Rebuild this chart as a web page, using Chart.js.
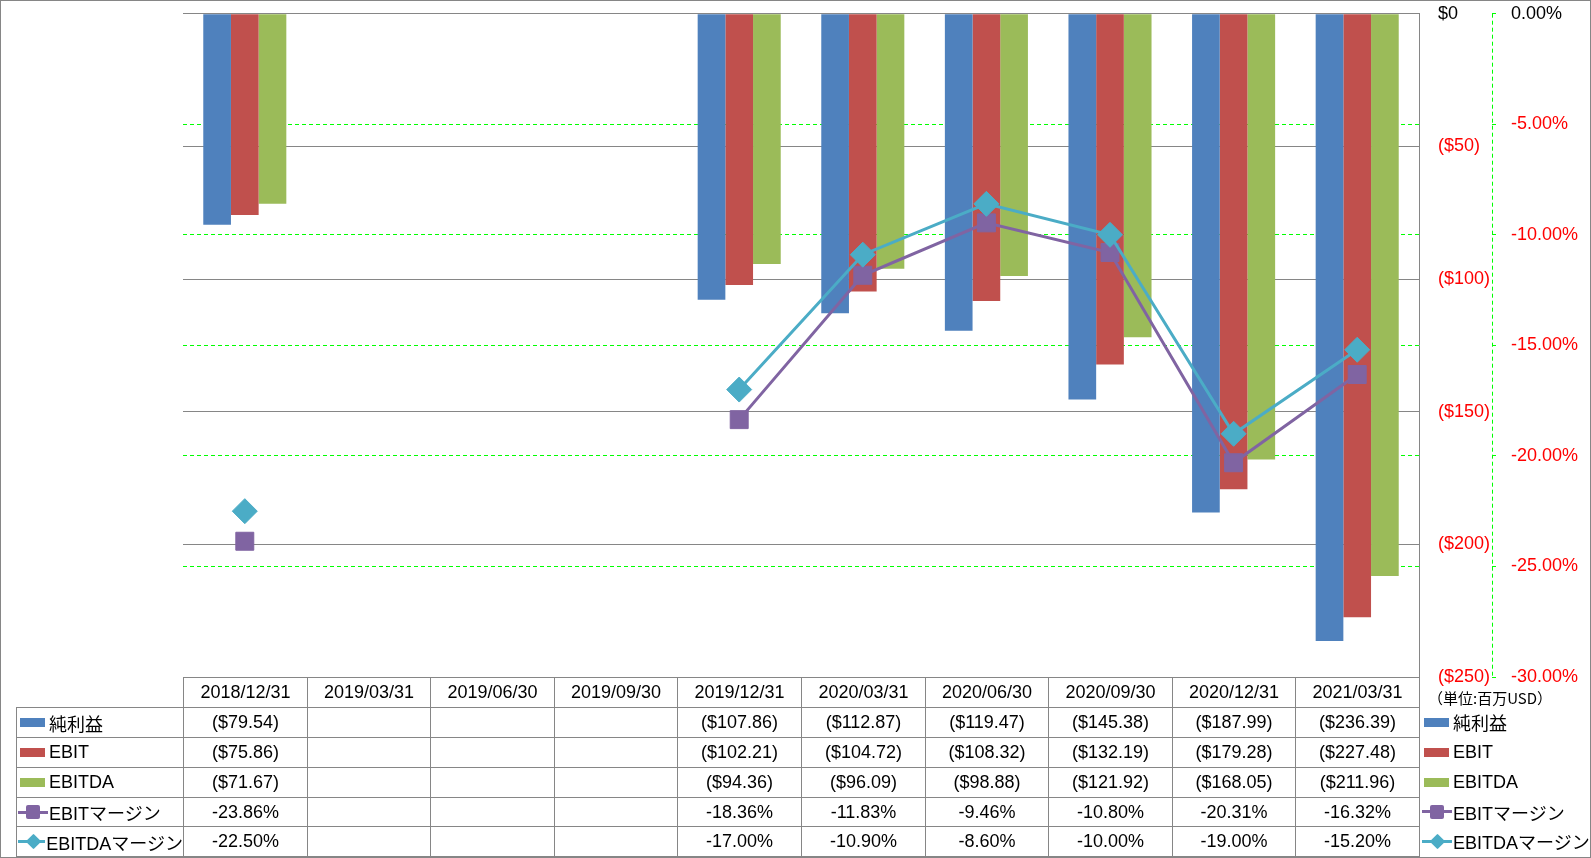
<!DOCTYPE html>
<html lang="ja">
<head>
<meta charset="utf-8">
<title>純利益 / EBIT / EBITDA</title>
<script src="https://cdn.jsdelivr.net/npm/chart.js@4.4.1/dist/chart.umd.min.js"></script>
<style>
  html, body { margin: 0; padding: 0; background: #fff; }
  #wrap { position: relative; width: 1591px; height: 858px; overflow: hidden; }
  #myChart { position: absolute; left: 0; top: 0; }
  #frame { position: absolute; left: 0; top: 0; width: 1591px; height: 858px; box-sizing: border-box;
           border: 1px solid #868686; pointer-events: none; }
  .cell { position: absolute; box-sizing: border-box; display: flex; align-items: center; justify-content: center;
          font-family: 'Liberation Sans', 'Noto Sans CJK JP', sans-serif; font-size: 18px; color: #000;
          white-space: nowrap; overflow: hidden; border-left: 1px solid #868686; border-top: 1px solid #868686; }
  .cell.name { justify-content: flex-start; }
  .lg { position: absolute; display: flex; align-items: center; white-space: nowrap;
        font-family: 'Liberation Sans', 'Noto Sans CJK JP', sans-serif; font-size: 18px; color: #000; }
  .sw { display: inline-block; width: 25px; height: 9px; margin: 0 4px 0 3px; }
  .lm { display: inline-block; position: relative; width: 30px; height: 16px; margin: 0 1px 0 1px; }
  .lm .ln { position: absolute; left: 0; right: 0; top: 6.5px; height: 3px; }
  .lm .sq { position: absolute; left: 8px; top: 1px; width: 14px; height: 14px; border-radius: 2px; }
  .lm .dm { position: absolute; left: 9.5px; top: 2.5px; width: 11px; height: 11px; transform: rotate(45deg); border-radius: 1px; }
  #unit { position: absolute; font-family: 'Noto Sans CJK JP', sans-serif; font-size: 15px; color: #000; white-space: nowrap; }
</style>
</head>
<body>
<div id="wrap">
  <canvas id="myChart" width="1591" height="858"></canvas>
  <div id="frame"></div>
</div>
<script>
const categories = ['2018/12/31', '2019/03/31', '2019/06/30', '2019/09/30', '2019/12/31',
                    '2020/03/31', '2020/06/30', '2020/09/30', '2020/12/31', '2021/03/31'];
const netIncome = [-79.54, null, null, null, -107.86, -112.87, -119.47, -145.38, -187.99, -236.39];
const ebit = [-75.86, null, null, null, -102.21, -104.72, -108.32, -132.19, -179.28, -227.48];
const ebitda = [-71.67, null, null, null, -94.36, -96.09, -98.88, -121.92, -168.05, -211.96];
const ebitMargin = [-23.86, null, null, null, -18.36, -11.83, -9.46, -10.80, -20.31, -16.32];
const ebitdaMargin = [-22.50, null, null, null, -17.00, -10.90, -8.60, -10.00, -19.00, -15.20];

const usdTicks = [0, -50, -100, -150, -200, -250];
const pctTicks = [0, -5, -10, -15, -20, -25, -30];

const seriesNames = ['純利益', 'EBIT', 'EBITDA', 'EBITマージン', 'EBITDAマージン'];
const unitLabel = '（単位:百万USD）';

const BLUE = '#4F81BD', RED = '#C0504D', GREEN = '#9BBB59', PURPLE = '#8064A2', CYAN = '#4BACC6';
const GRID = '#868686', LIME = '#00FF00';
const FONT = "'Liberation Sans', 'Noto Sans CJK JP', sans-serif";

function usdLabel(v) {
  return v === 0 ? '$0' : '($' + Math.abs(v) + ')';
}
function usdCell(v) {
  return v == null ? '' : '($' + Math.abs(v).toFixed(2) + ')';
}
function pctCell(v) {
  return v == null ? '' : v.toFixed(2) + '%';
}

// dashed green line for the secondary axis
const pctAxisLine = {
  id: 'pctAxisLine',
  afterDraw(chart) {
    const s = chart.scales.y1;
    const ctx = chart.ctx;
    ctx.save();
    ctx.strokeStyle = LIME;
    ctx.lineWidth = 1;
    ctx.setLineDash([4, 3]);
    ctx.beginPath();
    ctx.moveTo(Math.round(s.left) + 0.5, s.top);
    ctx.lineTo(Math.round(s.left) + 0.5, s.bottom);
    ctx.stroke();
    ctx.restore();
  }
};

Chart.defaults.font.family = FONT;
Chart.defaults.font.size = 18;
Chart.defaults.color = '#000';

const ctx = document.getElementById('myChart').getContext('2d');
const chart = new Chart(ctx, {
  type: 'bar',
  data: {
    labels: categories,
    datasets: [
      { type: 'line', label: seriesNames[4], data: ebitdaMargin, yAxisID: 'y1', order: 0,
        borderColor: CYAN, backgroundColor: CYAN, borderWidth: 3,
        pointStyle: 'rectRot', pointRadius: 12.5, pointBackgroundColor: CYAN, pointBorderColor: CYAN, pointBorderWidth: 1 },
      { type: 'line', label: seriesNames[3], data: ebitMargin, yAxisID: 'y1', order: 1,
        borderColor: PURPLE, backgroundColor: PURPLE, borderWidth: 3,
        pointStyle: 'rect', pointRadius: 12.7, pointBackgroundColor: PURPLE, pointBorderColor: PURPLE, pointBorderWidth: 1 },
      { label: seriesNames[0], data: netIncome, backgroundColor: BLUE, yAxisID: 'y', order: 2,
        barPercentage: 1, categoryPercentage: 0.672 },
      { label: seriesNames[1], data: ebit, backgroundColor: RED, yAxisID: 'y', order: 2,
        barPercentage: 1, categoryPercentage: 0.672 },
      { label: seriesNames[2], data: ebitda, backgroundColor: GREEN, yAxisID: 'y', order: 2,
        barPercentage: 1, categoryPercentage: 0.672 },
    ],
  },
  options: {
    responsive: false,
    animation: false,
    devicePixelRatio: 1,
    layout: { padding: { left: 183, top: 13, right: 0, bottom: 181 } },
    plugins: { legend: { display: false }, tooltip: { enabled: false } },
    scales: {
      x: { display: false, offset: true },
      y: {
        position: 'right',
        weight: 0,
        min: -250,
        max: 0,
        afterBuildTicks: scale => { scale.ticks = usdTicks.map(v => ({ value: v })); },
        afterFit: scale => { scale.width = 73; scale.paddingTop = 0; scale.paddingBottom = 0; },
        grid: { color: GRID, lineWidth: 1, drawTicks: false },
        border: { display: true, color: GRID, width: 1 },
        ticks: {
          padding: 19,
          font: { size: 18 },
          color: c => (c.tick && c.tick.value === 0 ? '#000' : '#FF0000'),
          callback: value => usdLabel(value),
        },
      },
      y1: {
        position: 'right',
        weight: 1,
        min: -30,
        max: 0,
        afterBuildTicks: scale => { scale.ticks = pctTicks.map(v => ({ value: v })); },
        afterFit: scale => { scale.width = 99; scale.paddingTop = 0; scale.paddingBottom = 0; },
        grid: {
          color: c => (c.tick && (c.tick.value === 0 || c.tick.value === -30) ? 'rgba(0,0,0,0)' : LIME),
          tickColor: LIME,
          tickLength: 4,
          lineWidth: 1,
        },
        border: { display: false, dash: [4, 3] },
        ticks: {
          padding: 15,
          font: { size: 18 },
          color: c => (c.tick && c.tick.value === 0 ? '#000' : '#FF0000'),
          callback: value => value.toFixed(2) + '%',
        },
      },
    },
  },
  plugins: [pctAxisLine],
});

// data table under the plot, aligned to the category scale
const wrap = document.getElementById('wrap');
const area = chart.chartArea;
const colW = (area.right - area.left) / categories.length;
const xs = categories.map((c, i) => Math.round(area.left + i * colW));
xs.push(Math.round(area.right));
const nameLeft = 16;
const rowsY = [677, 707, 737, 767, 797, 826, 856];

function addCell(x0, x1, y0, y1, html, cls, extra) {
  const d = document.createElement('div');
  d.className = 'cell' + (cls ? ' ' + cls : '');
  d.style.left = x0 + 'px';
  d.style.top = y0 + 'px';
  d.style.width = (x1 - x0 + (extra && extra.right ? 1 : 0)) + 'px';
  d.style.height = (y1 - y0 + (extra && extra.bottom ? 1 : 0)) + 'px';
  if (extra && extra.right) d.style.borderRight = '1px solid ' + GRID;
  if (extra && extra.bottom) d.style.borderBottom = '1px solid ' + GRID;
  d.innerHTML = html;
  wrap.insertBefore(d, document.getElementById('frame'));
  return d;
}

function barKey(color) {
  return '<span class="sw" style="background:' + color + '"></span>';
}
function lineKey(color, shape) {
  return '<span class="lm"><i class="ln" style="background:' + color + '"></i><i class="' + shape +
         '" style="background:' + color + '"></i></span>';
}

const rows = [
  { key: barKey(BLUE), name: seriesNames[0], vals: netIncome.map(usdCell) },
  { key: barKey(RED), name: seriesNames[1], vals: ebit.map(usdCell) },
  { key: barKey(GREEN), name: seriesNames[2], vals: ebitda.map(usdCell) },
  { key: lineKey(PURPLE, 'sq'), name: seriesNames[3], vals: ebitMargin.map(pctCell) },
  { key: lineKey(CYAN, 'dm'), name: seriesNames[4], vals: ebitdaMargin.map(pctCell) },
];

// header row
categories.forEach((c, i) => {
  addCell(xs[i], xs[i + 1], rowsY[0], rowsY[1], c, '', { right: i === categories.length - 1 });
});
// body rows
rows.forEach((r, ri) => {
  const y0 = rowsY[ri + 1], y1 = rowsY[ri + 2];
  const last = ri === rows.length - 1;
  addCell(nameLeft, xs[0], y0, y1, r.key + r.name, 'name', { bottom: last });
  r.vals.forEach((v, i) => {
    addCell(xs[i], xs[i + 1], y0, y1, v, '', { right: i === categories.length - 1, bottom: last });
  });
});

// right side legend
const unit = document.createElement('div');
unit.id = 'unit';
unit.textContent = unitLabel;
unit.style.left = '1428px';
unit.style.top = '687px';
wrap.insertBefore(unit, document.getElementById('frame'));
rows.forEach((r, ri) => {
  const d = document.createElement('div');
  d.className = 'lg';
  d.style.left = '1421px';
  d.style.top = rowsY[ri + 1] + 'px';
  d.style.height = (rowsY[ri + 2] - rowsY[ri + 1]) + 'px';
  d.innerHTML = r.key + r.name;
  wrap.insertBefore(d, document.getElementById('frame'));
});
</script>
</body>
</html>
